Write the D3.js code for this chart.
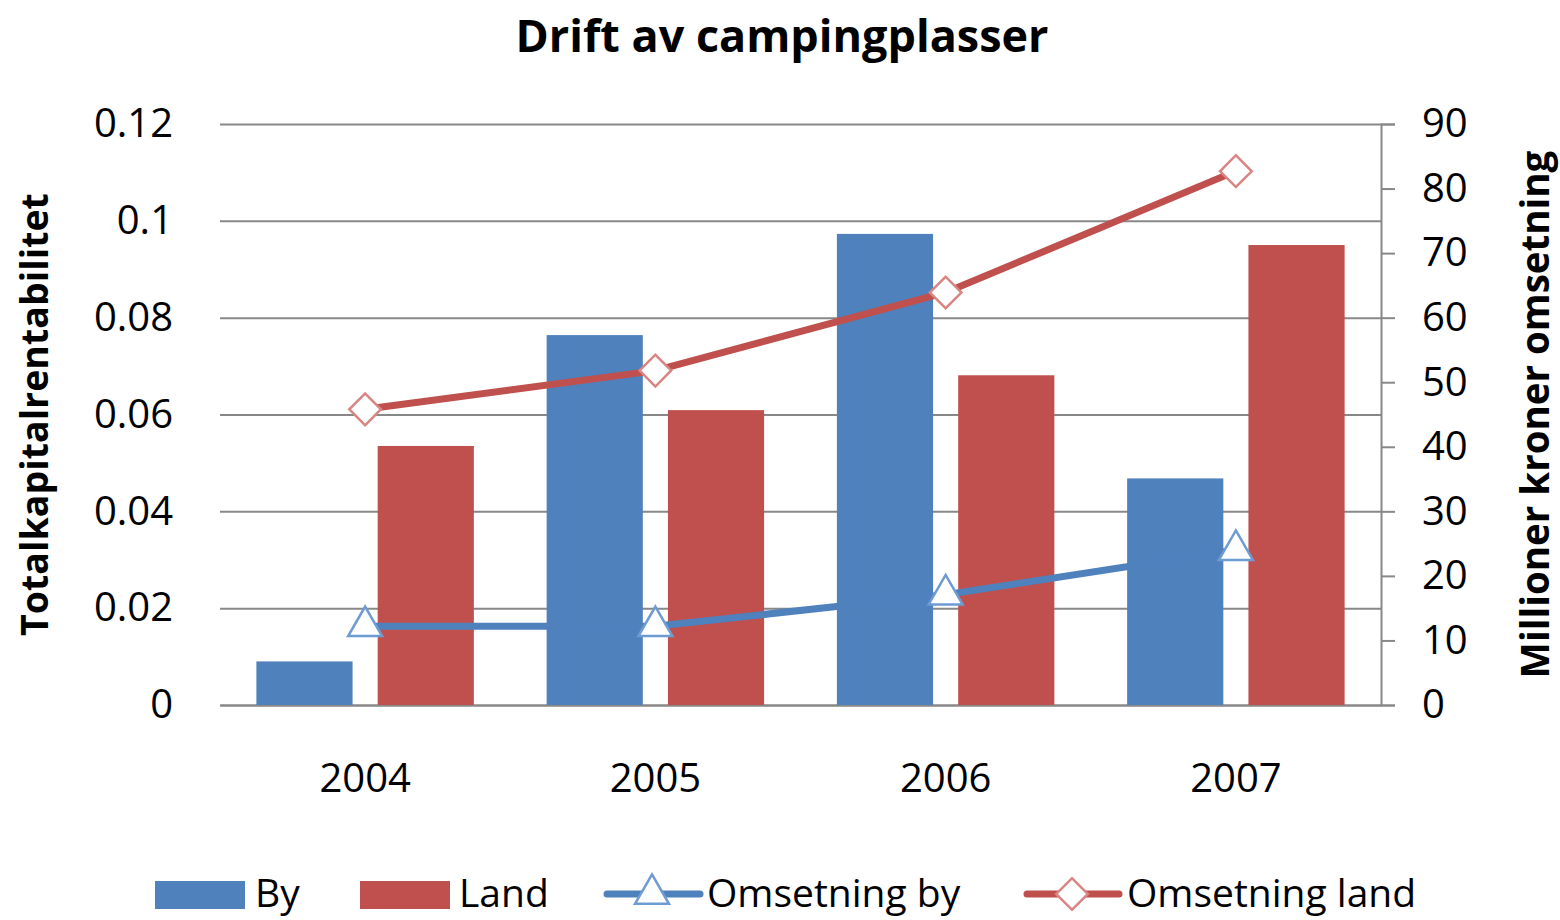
<!DOCTYPE html>
<html>
<head>
<meta charset="utf-8">
<script src="https://cdn.jsdelivr.net/npm/d3@7/dist/d3.min.js"></script>
<style>
  body { margin: 0; background: #fff; }
  text { font-family: "Open Sans", sans-serif; fill: #000; }
</style>
</head>
<body>
<div id="chart"></div>
<script>
// data
var years = ["2004", "2005", "2006", "2007"];
var byVals = [0.009, 0.0764, 0.0973, 0.0468];
var landVals = [0.0535, 0.0609, 0.0681, 0.095];
var omsBy = [12.2, 12.2, 17.1, 24.0];
var omsLand = [45.8, 51.8, 63.9, 82.7];
var leftTicks = [0, 0.02, 0.04, 0.06, 0.08, 0.1, 0.12];
var rightTicks = [0, 10, 20, 30, 40, 50, 60, 70, 80, 90];

var blue = "#4F81BD", red = "#C0504D";

var W = 1560, H = 920;
var margin = { top: 124, right: 179, bottom: 215, left: 220 },
    width = W - margin.left - margin.right,
    height = H - margin.top - margin.bottom;

var svg = d3.select("#chart").append("svg")
    .attr("width", W).attr("height", H);

// fit a text element to a given pixel width
function fit(t, target) {
    var fs = parseFloat(t.attr("font-size"));
    var len = t.node().getComputedTextLength();
    t.attr("font-size", fs * target / len);
}

var g = svg.append("g")
    .attr("transform", "translate(" + margin.left + "," + margin.top + ")");

var x = d3.scaleBand().domain(years).range([0, width]);
var x1 = d3.scaleBand().domain(["by", "land"]).range([0, x.bandwidth()])
    .paddingInner(0.207).paddingOuter(0.3);
var y = d3.scaleLinear().domain([0, 0.12]).range([height, 0]);
var y2 = d3.scaleLinear().domain([0, 90]).range([height, 0]);

// gridlines
g.append("g")
    .call(d3.axisLeft(y).tickValues(leftTicks).tickSize(-width).tickFormat(""))
    .call(function (a) { a.select(".domain").remove(); })
    .selectAll("line").attr("stroke", "#888").attr("stroke-width", 2);

// left tick labels
var yAx = g.append("g")
    .call(d3.axisLeft(y).tickValues(leftTicks).tickSize(0).tickPadding(47)
        .tickFormat(function (d) { return d === 0 ? "0" : String(+d.toFixed(2)); }));
yAx.select(".domain").remove();
yAx.selectAll("text").attr("font-size", 40).attr("font-family", "Open Sans").attr("fill", "#000");

// right axis
var rAx = g.append("g")
    .attr("transform", "translate(" + width + ",0)")
    .call(d3.axisRight(y2).tickValues(rightTicks).tickSize(14).tickPadding(27));
rAx.select(".domain").attr("stroke", "#888").attr("stroke-width", 2);
rAx.selectAll("line").attr("stroke", "#888").attr("stroke-width", 2);
rAx.selectAll("text").attr("font-size", 40).attr("font-family", "Open Sans").attr("fill", "#000");

// x axis labels
var xAx = g.append("g")
    .attr("transform", "translate(0," + height + ")")
    .call(d3.axisBottom(x).tickSize(0).tickPadding(59));
xAx.select(".domain").attr("stroke", "#888").attr("stroke-width", 2);
xAx.selectAll("text").attr("font-size", 40).attr("font-family", "Open Sans").attr("fill", "#000");

// bars
var groups = g.selectAll(".grp")
    .data(years)
    .enter().append("g")
    .attr("transform", function (d) { return "translate(" + x(d) + ",0)"; });

groups.append("rect")
    .attr("x", x1("by"))
    .attr("width", x1.bandwidth())
    .attr("y", function (d, i) { return y(byVals[i]); })
    .attr("height", function (d, i) { return height - y(byVals[i]); })
    .attr("fill", blue);

groups.append("rect")
    .attr("x", x1("land"))
    .attr("width", x1.bandwidth())
    .attr("y", function (d, i) { return y(landVals[i]); })
    .attr("height", function (d, i) { return height - y(landVals[i]); })
    .attr("fill", red);

// lines
var cx = function (d, i) { return x(years[i]) + x.bandwidth() / 2; };
var line = d3.line().x(cx).y(function (d) { return y2(d); });

g.append("path").datum(omsBy)
    .attr("d", line).attr("fill", "none")
    .attr("stroke", blue).attr("stroke-width", 7);
g.append("path").datum(omsLand)
    .attr("d", line).attr("fill", "none")
    .attr("stroke", red).attr("stroke-width", 7);

var tri = d3.symbol().type(d3.symbolTriangle).size(500);
var dia = d3.symbol().type(d3.symbolSquare).size(500);

g.selectAll(".tri").data(omsBy).enter().append("path")
    .attr("d", tri)
    .attr("transform", function (d, i) { return "translate(" + cx(d, i) + "," + y2(d) + ")"; })
    .attr("fill", "#fff").attr("stroke", "#6E9BD2").attr("stroke-width", 2.5);

g.selectAll(".dia").data(omsLand).enter().append("path")
    .attr("d", dia)
    .attr("transform", function (d, i) { return "translate(" + cx(d, i) + "," + y2(d) + ")rotate(45)"; })
    .attr("fill", "#fff").attr("stroke", "#D98583").attr("stroke-width", 2.5);

// title
var title = svg.append("text")
    .attr("x", 782).attr("y", 52)
    .attr("text-anchor", "middle")
    .attr("font-size", 44).attr("font-weight", "bold")
    .text("Drift av campingplasser");
fit(title, 533);

// axis titles
var lt = svg.append("text")
    .attr("text-anchor", "middle")
    .attr("transform", "translate(48," + (margin.top + height / 2) + ")rotate(-90)")
    .attr("font-size", 40).attr("font-weight", "bold")
    .text("Totalkapitalrentabilitet");
fit(lt, 443);

var rt = svg.append("text")
    .attr("text-anchor", "middle")
    .attr("transform", "translate(1549," + (margin.top + height / 2) + ")rotate(-90)")
    .attr("font-size", 40).attr("font-weight", "bold")
    .text("Millioner kroner omsetning");
fit(rt, 528);

// legend
var lg = svg.append("g").attr("transform", "translate(0,894)");
lg.append("rect").attr("x", 155).attr("y", -13).attr("width", 90).attr("height", 28).attr("fill", blue);
lg.append("text").attr("x", 255).attr("y", 13).attr("font-size", 39).text("By");
lg.append("rect").attr("x", 360).attr("y", -13).attr("width", 90).attr("height", 28).attr("fill", red);
lg.append("text").attr("x", 459).attr("y", 13).attr("font-size", 39).text("Land");

lg.append("line").attr("x1", 607).attr("x2", 700).attr("y1", 0).attr("y2", 0)
    .attr("stroke", blue).attr("stroke-width", 7).attr("stroke-linecap", "round");
lg.append("path").attr("d", tri).attr("transform", "translate(652,0)")
    .attr("fill", "#fff").attr("stroke", "#6E9BD2").attr("stroke-width", 2.5);
lg.append("text").attr("x", 707).attr("y", 13).attr("font-size", 39).text("Omsetning by");

lg.append("line").attr("x1", 1027).attr("x2", 1119).attr("y1", 0).attr("y2", 0)
    .attr("stroke", red).attr("stroke-width", 7).attr("stroke-linecap", "round");
lg.append("path").attr("d", dia).attr("transform", "translate(1072,0)rotate(45)")
    .attr("fill", "#fff").attr("stroke", "#D98583").attr("stroke-width", 2.5);
lg.append("text").attr("x", 1127).attr("y", 13).attr("font-size", 39).text("Omsetning land");
</script>
</body>
</html>
